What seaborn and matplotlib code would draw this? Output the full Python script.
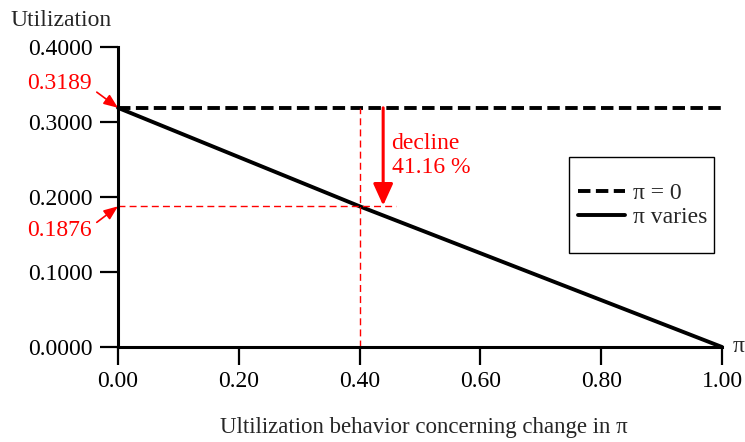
import matplotlib
matplotlib.use("Agg")
import matplotlib.pyplot as plt
import seaborn as sns
import pandas as pd
from matplotlib.patches import Rectangle
from matplotlib.ticker import FormatStrFormatter

# data
pi_const_x = [0.0, 1.0]
pi_const_y = [0.3189, 0.3189]
pi_var_x = [0.0, 0.4, 1.0]
pi_var_y = [0.3189, 0.1876, 0.0]
x_ticks = [0.0, 0.2, 0.4, 0.6, 0.8, 1.0]
y_ticks = [0.0, 0.1, 0.2, 0.3, 0.4]
mark_x = 0.4
start_val = 0.3189
end_val = 0.1876
decline_pct = "41.16 %"

sns.set_theme(style="white")
plt.rcParams['font.family'] = ['Liberation Serif', 'DejaVu Serif']

FS = 17
fig = plt.figure(figsize=(7.45, 4.42), dpi=100)
ax = fig.add_axes([118/745, 1-347/442, 604/745, 300/442])

df0 = pd.DataFrame({"x": pi_const_x, "y": pi_const_y})
df1 = pd.DataFrame({"x": pi_var_x, "y": pi_var_y})
sns.lineplot(data=df0, x="x", y="y", ax=ax, color="black", lw=2.8,
             label="π = 0", clip_on=False)
ax.lines[-1].set_dashes((3.2, 1.4))
sns.lineplot(data=df1, x="x", y="y", ax=ax, color="black", lw=2.8,
             label="π varies", clip_on=False)

ax.set_xlim(0, 1)
ax.set_ylim(0, 0.4)
ax.set_xticks(x_ticks)
ax.set_yticks(y_ticks)
ax.xaxis.set_major_formatter(FormatStrFormatter("%.2f"))
ax.yaxis.set_major_formatter(FormatStrFormatter("%.4f"))
for s in ["top", "right"]:
    ax.spines[s].set_visible(False)
for s in ["left", "bottom"]:
    ax.spines[s].set_color("black")
    ax.spines[s].set_linewidth(2.2)
ax.tick_params(axis="both", which="major", direction="out", length=13,
               width=1.6, colors="black", labelsize=FS, pad=4, left=True, bottom=True)
ax.tick_params(axis="y", pad=5)
ax.set_xlabel("")
ax.set_ylabel("")

# red guide lines
ax.plot([mark_x, mark_x], [0, start_val], color="red", lw=1, ls=(0, (5, 3)))
ax.plot([0, 0.46], [end_val, end_val], color="red", lw=1, ls=(0, (5, 3)))
ax.annotate("", xy=(0.439, end_val + 0.001), xytext=(0.439, start_val),
            arrowprops=dict(arrowstyle="-|>,head_length=1.1,head_width=0.5",
                            color="red", lw=2.2, shrinkA=0, shrinkB=0))
ax.text(0.453, 0.285, "decline\n" + decline_pct, color="red", fontsize=FS,
        va="top", ha="left", linespacing=1.2)

# left red value labels with arrows
ax.annotate(f"{start_val:.4f}", xy=(0, start_val), xytext=(-19, 0.351),
            textcoords=("offset points", "data"), color="red", fontsize=FS,
            ha="right", va="center", annotation_clip=False,
            arrowprops=dict(arrowstyle="-|>,head_length=0.5,head_width=0.2",
                            color="red", lw=1.2, shrinkA=0, shrinkB=0,
                            relpos=(1.08, 0.1)))
ax.annotate(f"{end_val:.4f}", xy=(0, end_val), xytext=(-19, 0.155),
            textcoords=("offset points", "data"), color="red", fontsize=FS,
            ha="right", va="center", annotation_clip=False,
            arrowprops=dict(arrowstyle="-|>,head_length=0.5,head_width=0.2",
                            color="red", lw=1.2, shrinkA=0, shrinkB=0,
                            relpos=(1.08, 0.9)))

# legend
x0, x1 = (569-118)/604, (714-118)/604
y0, y1 = (347-253)/300, (347-157)/300
ax.add_patch(Rectangle((x0, y0), x1-x0, y1-y0, transform=ax.transAxes,
                       fill=False, edgecolor="black", lw=1.0, clip_on=False))
ax.legend(loc="upper left", bbox_to_anchor=(x0 - 0.001, y1 - 0.055), frameon=False,
          fontsize=FS, handlelength=2.0, handletextpad=0.35, labelspacing=0.1,
          borderaxespad=0)

fig.text(10/745, 1-20/442, "Utilization", fontsize=FS, ha="left", va="center")
fig.text(733/745, 1-347/442, "π", fontsize=FS, ha="left", va="center")
fig.text(424/745, 1-428/442, "Ultilization behavior concerning change in π",
         fontsize=16.5, ha="center", va="center")

fig.savefig("out.png", dpi=100)
